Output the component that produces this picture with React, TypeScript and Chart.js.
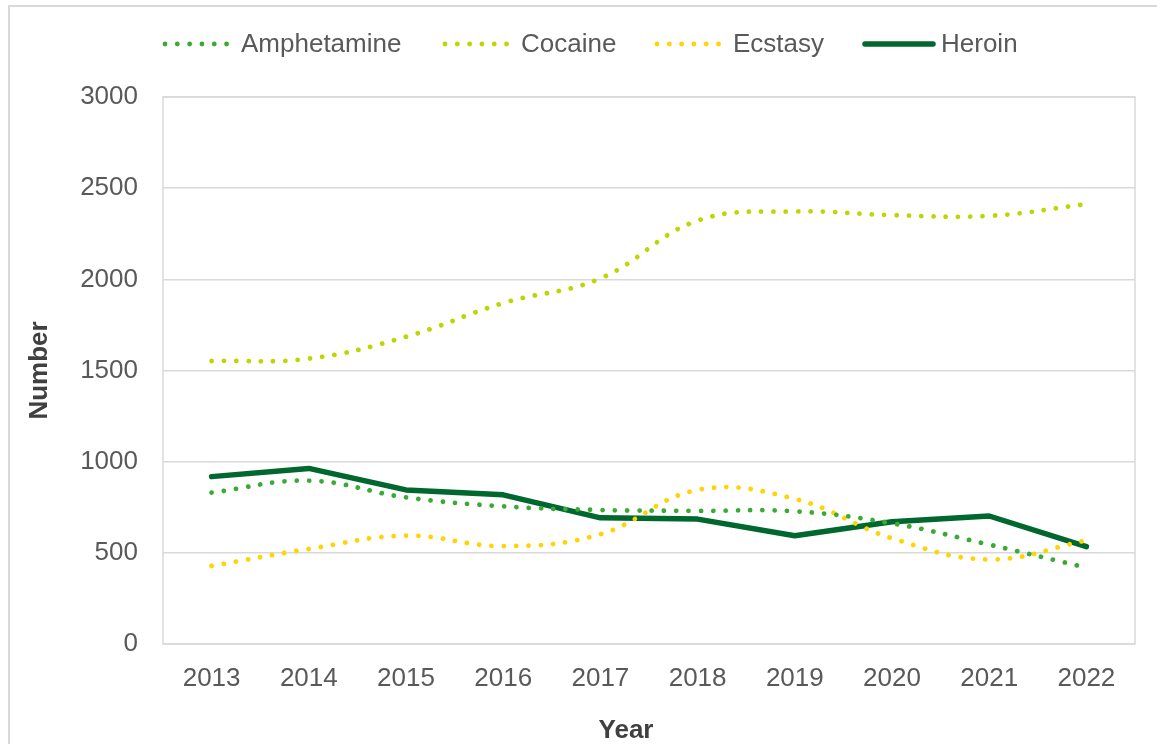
import React, { useEffect, useRef } from "react";
import { Chart, registerables } from "chart.js";

Chart.register(...registerables);

const years = ["2013", "2014", "2015", "2016", "2017", "2018", "2019", "2020", "2021", "2022"];
const amphetamine = [830, 896, 804, 755, 735, 730, 728, 662, 545, 419];
const cocaine = [1552, 1565, 1685, 1870, 2005, 2322, 2372, 2352, 2348, 2412];
const ecstasy = [428, 521, 594, 537, 602, 845, 796, 580, 464, 568];
const heroin = [918, 963, 845, 818, 692, 685, 594, 670, 702, 534];
const yTicks = [0, 500, 1000, 1500, 2000, 2500, 3000];
const xTitle = "Year";
const yTitle = "Number";

const FONT = "'Liberation Sans', Arial, sans-serif";
const DOT_DASH = [0.01, 12.3];

const series = [
  { label: "Amphetamine", data: amphetamine, color: "#3AAA35", dotted: true },
  { label: "Cocaine", data: cocaine, color: "#BED600", dotted: true },
  { label: "Ecstasy", data: ecstasy, color: "#FFD400", dotted: true },
  { label: "Heroin", data: heroin, color: "#00672F", dotted: false },
];

const frameAndLegend = {
  id: "frameAndLegend",
  beforeDatasetsDraw(chart: any) {
    const { ctx, chartArea } = chart;
    ctx.save();
    ctx.strokeStyle = "#D9D9D9";
    ctx.lineWidth = 1.5;
    ctx.strokeRect(chartArea.left, chartArea.top, chartArea.right - chartArea.left, chartArea.bottom - chartArea.top);
    ctx.restore();
  },
  afterDraw(chart: any) {
    const { ctx } = chart;
    const starts = [163, 443, 655, 863];
    const y = 44;
    ctx.save();
    series.forEach((s, i) => {
      const x = starts[i];
      ctx.beginPath();
      ctx.strokeStyle = s.color;
      ctx.lineCap = "round";
      if (s.dotted) {
        ctx.lineWidth = 4.8;
        ctx.setLineDash(DOT_DASH);
        ctx.moveTo(x + 2, y);
        ctx.lineTo(x + 67, y);
      } else {
        ctx.lineWidth = 5.5;
        ctx.setLineDash([]);
        ctx.moveTo(x + 2, y);
        ctx.lineTo(x + 70, y);
      }
      ctx.stroke();
      ctx.setLineDash([]);
      ctx.fillStyle = "#595959";
      ctx.font = `26px ${FONT}`;
      ctx.textBaseline = "middle";
      ctx.textAlign = "left";
      ctx.fillText(s.label, x + 78, y + 1);
    });
    // x-axis title (centred on the whole chart frame, as in the source)
    ctx.fillStyle = "#404040";
    ctx.font = `bold 26px ${FONT}`;
    ctx.textAlign = "center";
    ctx.textBaseline = "middle";
    ctx.fillText(xTitle, 626, 731);
    ctx.restore();
  },
};

export default function App() {
  const ref = useRef<HTMLCanvasElement>(null);
  useEffect(() => {
    if (!ref.current) return;
    const chart = new Chart(ref.current, {
      type: "line",
      data: {
        labels: years,
        datasets: series.map((s) => ({
          label: s.label,
          data: s.data,
          borderColor: s.color,
          backgroundColor: s.color,
          borderWidth: s.dotted ? 4.8 : 5.5,
          borderDash: s.dotted ? DOT_DASH : [],
          borderCapStyle: "round",
          borderJoinStyle: "round",
          tension: s.dotted ? 0.4 : 0,
          pointRadius: 0,
          fill: false,
        })),
      },
      options: {
        animation: false,
        responsive: false,
        maintainAspectRatio: false,
        layout: { padding: { top: 97, right: 22, left: 0, bottom: 0 } },
        plugins: { legend: { display: false }, tooltip: { enabled: false } },
        scales: {
          x: {
            offset: true,
            grid: { display: false, drawTicks: false },
            border: { display: false },
            ticks: { color: "#595959", font: { family: FONT, size: 26 }, padding: 19, maxRotation: 0 },
            afterFit(scale: any) {
              scale.height = 100;
            },
          },
          y: {
            min: 0,
            max: 3000,
            afterBuildTicks(scale: any) {
              scale.ticks = yTicks.map((v) => ({ value: v }));
            },
            grid: { color: "#D9D9D9", lineWidth: 1.5, drawTicks: false },
            border: { display: false },
            ticks: {
              color: "#595959",
              font: { family: FONT, size: 26 },
              padding: 25,
              callback: (v: any) => String(v),
            },
            title: {
              display: true,
              text: yTitle,
              color: "#404040",
              font: { family: FONT, size: 26, weight: "bold", lineHeight: 1 },
              padding: { top: 27, bottom: 0 },
            },
            afterFit(scale: any) {
              scale.width = 163;
            },
          },
        },
      },
      plugins: [frameAndLegend],
    });
    return () => chart.destroy();
  }, []);

  return (
    <div style={{ position: "fixed", left: 0, top: 0, width: 1157, height: 744, overflow: "hidden", background: "#fff" }}>
      <div
        style={{
          position: "absolute",
          left: 8,
          top: 5,
          width: 1200,
          height: 800,
          border: "2px solid #D9D9D9",
          boxSizing: "border-box",
        }}
      />
      <canvas ref={ref} width={1157} height={744} style={{ position: "absolute", left: 0, top: 0, width: 1157, height: 744 }} />
    </div>
  );
}
